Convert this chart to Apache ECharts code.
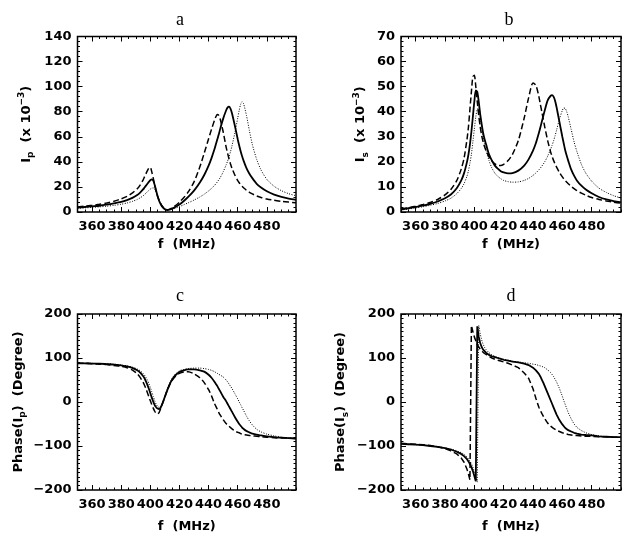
<!DOCTYPE html>
<html><head><meta charset="utf-8">
<script src="https://cdn.jsdelivr.net/npm/echarts@6/dist/echarts.min.js"></script>
<style>html,body{margin:0;padding:0;background:#fff}#c{width:633px;height:536px}</style>
</head><body><div id="c"></div><script>
// frequency samples (MHz)
const freq = [350,355,360,365,370,375,380,384,388,391,393,395,396,397,398,399,400,401,402,403,404,405,406,407,408,410,412,414,416,418,420,423,426,430,434,437,440,442,444,445,446,447,448,450,452,453,454,455,456,458,460,461,462,463,464,466,468,470,473,476,480,485,490,495,500];
const xMajorTicks = [360,380,400,420,440,460,480];

// panel a : Ip (x 10^-3)
const ipSolid  = [3.5,4.0,4.5,5.0,5.8,6.8,8.0,9.5,11.5,13.5,15.5,18.0,19.5,21.0,22.5,24.0,25.3,26.0,25.0,21.5,17.0,12.5,9.0,6.5,4.5,2.2,1.6,2.2,3.3,4.6,6.0,8.8,12.0,17.0,23.5,29.5,37.0,43.0,50.0,54.0,58.0,62.0,66.5,74.5,81.0,83.3,84.0,82.5,79.0,69.0,58.0,53.0,48.5,44.5,41.0,35.0,30.5,27.0,22.5,19.5,16.5,13.8,12.0,10.7,9.7];
const ipDashed = [4.0,4.6,5.3,6.1,7.2,8.6,10.5,12.5,15.5,18.5,21.5,25.5,28.0,30.5,33.0,35.0,35.5,32.0,27.0,21.5,16.5,12.5,9.5,7.0,5.0,2.5,1.8,2.6,4.0,5.8,8.0,11.5,16.0,24.0,36.0,47.0,58.5,66.0,73.0,76.0,77.8,77.0,74.0,64.0,52.0,47.0,42.5,38.5,35.0,29.5,25.0,23.3,21.8,20.5,19.3,17.3,15.7,14.4,12.8,11.6,10.4,9.3,8.5,7.9,7.4];
const ipDotted = [3.0,3.3,3.7,4.1,4.6,5.3,6.2,7.2,8.6,10.0,11.3,12.9,13.9,15.0,16.2,17.3,18.3,19.0,19.2,18.3,15.8,12.5,9.5,7.0,5.0,2.5,1.5,1.8,2.5,3.4,4.3,5.8,7.3,9.5,12.0,14.2,16.8,18.8,21.2,22.5,24.0,25.7,27.5,32.0,37.5,40.5,44.0,48.0,52.5,63.0,75.0,81.0,86.0,88.0,86.5,77.0,65.0,54.0,42.0,33.5,26.0,20.5,17.0,14.6,13.0];

// panel b : Is (x 10^-3)
const isSolid  = [1.0,1.5,2.0,2.5,3.2,4.2,5.5,7.0,9.5,12.5,15.5,20.0,23.0,27.0,32.0,38.0,44.0,48.5,48.0,44.0,39.0,35.0,31.5,29.0,27.0,23.0,20.5,18.5,17.3,16.3,15.8,15.4,15.5,16.5,18.5,21.0,24.5,27.5,31.5,33.7,36.0,38.3,40.5,44.5,46.3,46.6,46.0,44.5,42.0,36.0,30.0,27.2,24.5,22.4,20.5,17.0,14.5,12.5,10.5,9.0,7.5,6.0,5.0,4.3,3.8];
const isDashed = [1.2,1.7,2.3,3.0,3.8,5.0,6.8,9.0,12.5,17.0,21.5,29.0,34.0,41.0,48.0,54.0,54.5,50.0,44.0,38.5,34.0,30.5,28.0,26.0,24.5,22.0,20.3,19.2,18.6,18.5,19.0,20.5,23.0,28.5,37.5,45.5,51.5,50.5,46.0,43.0,40.0,37.0,34.0,28.5,24.0,22.2,20.6,19.2,18.0,15.8,14.0,13.2,12.5,11.9,11.3,10.2,9.3,8.5,7.5,6.7,5.8,5.0,4.4,3.9,3.5];
const isDotted = [0.8,1.2,1.6,2.1,2.7,3.4,4.4,5.5,7.3,9.3,11.3,14.3,16.5,19.5,23.0,28.0,33.0,38.0,41.0,41.5,38.5,34.0,30.0,27.0,24.5,20.5,17.5,15.5,14.2,13.3,12.6,12.1,11.9,12.0,12.6,13.4,14.6,15.6,16.8,17.5,18.3,19.1,20.0,22.3,25.0,26.6,28.3,30.3,32.5,37.0,40.5,41.5,41.3,40.0,38.0,33.0,28.0,24.0,19.0,15.5,12.3,9.5,7.8,6.5,5.6];

// panel c : Phase(Ip) (degree)
const phIpSolid  = [88,88,87,87,86,85,83,81,77,72,67,59,54,47,39,30,20,10,1,-7,-12,-15,-16,-13,-6,12,30,45,56,63,68,72,74,74,72,69,62,55,46,41,36,30,24,12,2,-4,-10,-16,-22,-34,-45,-50,-54,-58,-61,-66,-69,-72,-74,-76,-78,-80,-81,-82,-83];
const phIpDashed = [88,88,87,86,85,83,81,78,72,64,56,45,38,30,21,12,3,-6,-14,-21,-26,-27,-24,-16,-7,12,30,44,54,61,65,68,69,64,55,44,28,14,-3,-10,-17,-24,-30,-40,-49,-52,-55,-58,-61,-66,-69,-70,-72,-73,-74,-75,-76,-77,-78,-79,-80,-81,-82,-82,-83];
const phIpDotted = [88,88,88,87,87,86,84,82,79,75,71,65,61,56,50,42,33,23,13,3,-5,-10,-12,-11,-5,12,32,48,59,66,71,74,76,77,77,76,74,72,69,67,65,63,61,57,50,46,41,36,31,19,7,0,-6,-13,-19,-32,-43,-52,-62,-68,-73,-77,-80,-82,-83];

// panel d : Phase(Is) (degree)
const phIsSolid  = [-95,-96,-97,-98,-100,-102,-105,-108,-113,-118,-123,-130,-135,-141,-148,-157,-168,-180,172,148,134,125,119,115,112,107,104,102,100,98,96,94,92,90,87,84,78,72,64,58,51,44,36,20,4,-4,-12,-20,-28,-41,-51,-55,-59,-62,-64,-67,-70,-72,-74,-75,-76,-78,-79,-80,-80];
const phIsDashed = [-94,-95,-96,-97,-99,-102,-106,-111,-118,-127,-137,-153,-164,-177,174,160,148,139,131,125,120,116,113,110,108,104,100,97,95,93,91,88,84,78,66,54,30,8,-12,-19,-26,-32,-38,-48,-55,-58,-60,-62,-64,-67,-70,-71,-72,-73,-74,-75,-76,-76,-77,-78,-78,-79,-79,-80,-80];
const phIsDotted = [-96,-96,-97,-98,-100,-101,-104,-107,-111,-115,-119,-125,-129,-134,-140,-148,-158,-170,-182,174,155,141,131,124,119,112,107,104,101,99,97,95,93,91,89,88,86,85,83,82,81,80,78,73,67,63,58,52,46,31,13,3,-6,-15,-24,-38,-50,-58,-65,-70,-74,-77,-79,-80,-81];

const panelTitles = ['a','b','c','d'];
const yNames = [
  '{m|I}{s|p}{m|  (x 10}{u|\u22123}{m|)}',
  '{m|I}{s|s}{m|  (x 10}{u|\u22123}{m|)}',
  '{m|Phase(I}{s|p}{m|)  (Degree)}',
  '{m|Phase(I}{s|s}{m|)  (Degree)}'
];
const yRanges = [[0,140,20,5],[0,70,10,5],[-200,200,100,10],[-200,200,100,10]];
const yNameGaps = [42,31,50,51];
const xNameGaps = [26,26,30,30];

const grids = [
  {left:77.5, top:36.5, width:218.5, height:175.5},
  {left:401, top:36.5, width:220, height:175.5},
  {left:77.5, top:314, width:218.5, height:176},
  {left:401, top:314, width:220, height:176}
];
const titlePos = [[180,20],[509,20],[180,296],[511,296]];

const FONT = 'DejaVu Sans';
const black = '#000';
const lblStyle = {color:black, fontFamily:FONT, fontWeight:'bold', fontSize:13};
const rich = {
  m:{fontFamily:FONT, fontWeight:'bold', fontSize:13, color:black, lineHeight:18},
  s:{fontFamily:FONT, fontWeight:'bold', fontSize:9, color:black, lineHeight:18, verticalAlign:'bottom'},
  u:{fontFamily:FONT, fontWeight:'bold', fontSize:9, color:black, lineHeight:18, verticalAlign:'top'}
};

const xAxis = [], yAxis = [], series = [], graphic = [];
grids.forEach((g, gi) => {
  g.show = true; g.borderColor = black; g.borderWidth = 1.5; g.containLabel = false;
  const xb = {gridIndex:gi, type:'value', min:350, max:500, interval:5, splitLine:{show:false}, axisLine:{show:false, onZero:false}};
  xAxis.push(Object.assign({}, xb, {position:'bottom',
    axisTick:{show:true, inside:true, length:5, customValues:xMajorTicks, lineStyle:{color:black,width:1}},
    axisLabel:{show:true, customValues:xMajorTicks, margin:8, ...lblStyle},
    name:'f  (MHz)', nameLocation:'middle', nameGap:xNameGaps[gi], nameTextStyle:{...lblStyle}}));
  xAxis.push(Object.assign({}, xb, {position:'bottom',
    axisTick:{show:true, inside:true, length:2.5, lineStyle:{color:black,width:1}}, axisLabel:{show:false}}));
  xAxis.push(Object.assign({}, xb, {position:'top',
    axisTick:{show:true, inside:true, length:5, customValues:xMajorTicks, lineStyle:{color:black,width:1}}, axisLabel:{show:false}}));
  xAxis.push(Object.assign({}, xb, {position:'top',
    axisTick:{show:true, inside:true, length:2.5, lineStyle:{color:black,width:1}}, axisLabel:{show:false}}));
  const r = yRanges[gi];
  const yb = {gridIndex:gi, type:'value', min:r[0], max:r[1], interval:r[2], splitLine:{show:false}, axisLine:{show:false, onZero:false},
    axisTick:{show:true, inside:true, length:5, lineStyle:{color:black,width:1}},
    minorTick:{show:true, splitNumber:r[3], length:2.5, lineStyle:{color:black,width:1}}};
  yAxis.push(Object.assign({}, yb, {position:'left',
    axisLabel:{show:true, margin:6, ...lblStyle, formatter:v => String(v).replace('-', '\u2212')},
    name:yNames[gi], nameLocation:'middle', nameRotate:90, nameGap:yNameGaps[gi],
    nameTextStyle:{...lblStyle, rich:rich}}));
  yAxis.push(Object.assign({}, yb, {position:'right', axisLabel:{show:false}}));
  graphic.push({type:'text', x:titlePos[gi][0], y:titlePos[gi][1],
    style:{text:panelTitles[gi], align:'center', verticalAlign:'middle', textAlign:'center', textVerticalAlign:'middle',
      font:'18px "Liberation Serif"', fill:black}});
});

const sets = [
  [ipSolid, ipDashed, ipDotted],
  [isSolid, isDashed, isDotted],
  [phIpSolid, phIpDashed, phIpDotted],
  [phIsSolid, phIsDashed, phIsDotted]
];
const styles = [
  {color:black, width:1.8, type:'solid'},
  {color:black, width:1.5, type:[6,3]},
  {color:black, width:1, type:[1,1.5]}
];
sets.forEach((set, gi) => {
  set.forEach((vals, k) => {
    series.push({type:'line', xAxisIndex:gi*4, yAxisIndex:gi*2, symbol:'none', silent:true,
      smooth: gi === 3 ? false : 0.25,
      data: freq.map((f, i) => [f, vals[i]]),
      lineStyle: styles[k]});
  });
});

const chart = echarts.init(document.getElementById('c'), null, {renderer:'canvas'});
chart.setOption({backgroundColor:'#fff', animation:false, grid:grids, xAxis, yAxis, series, graphic});
</script></body></html>
